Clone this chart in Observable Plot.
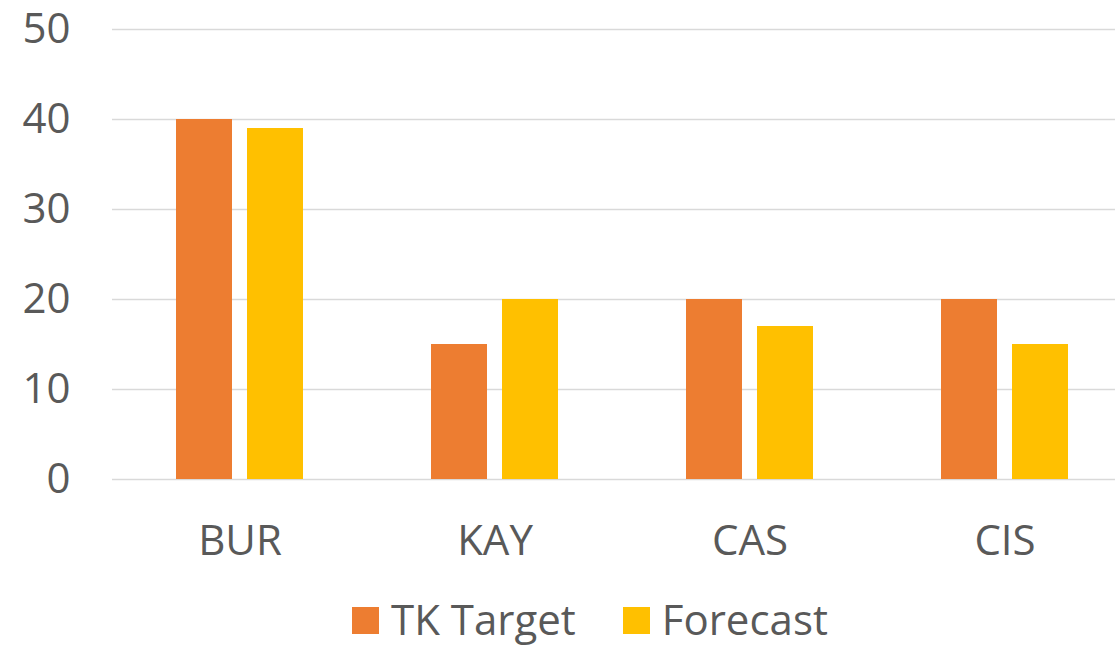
<!DOCTYPE html>
<html>
<head>
<meta charset="utf-8">
<script src="https://cdn.jsdelivr.net/npm/d3@7"></script>
<script src="https://cdn.jsdelivr.net/npm/@observablehq/plot@0.6"></script>
<style>
  html, body { margin: 0; padding: 0; background: #fff; overflow: hidden; width: 1115px; height: 645px; }
  #wrap { position: relative; width: 1115px; height: 645px; overflow: hidden; font-family: "Open Sans", sans-serif; }
  #legend { position: absolute; top: 595px; left: 352px; display: flex; align-items: center; color: #595959; font-size: 42px; line-height: 48px; }
  .item { display: flex; align-items: center; margin-right: 47px; }
  .sw { width: 27px; height: 27px; margin-right: 12px; margin-top: 3px; }
</style>
</head>
<body>
<div id="wrap"><div id="chart"></div><div id="legend"></div></div>
<script>
const categories = ["BUR", "KAY", "CAS", "CIS"];
const series = ["TK Target", "Forecast"];
const targetValues = [40, 15, 20, 20];
const forecastValues = [39, 20, 17, 15];
const colors = ["#ED7D31", "#FFC000"];
const yTicks = [0, 10, 20, 30, 40, 50];

const data = [];
categories.forEach((c, i) => {
  data.push({category: c, series: series[0], value: targetValues[i]});
  data.push({category: c, series: series[1], value: forecastValues[i]});
});

const chart = Plot.plot({
  width: 1132,
  height: 590,
  marginLeft: 112,
  marginRight: 0,
  marginTop: 29,
  marginBottom: 111,
  style: {fontFamily: "'Open Sans', sans-serif", fontSize: "42px", color: "#595959", background: "transparent", overflow: "visible", maxWidth: "none"},
  fx: {domain: categories, padding: 0, axis: "bottom", label: null, tickSize: 0, tickPadding: 46},
  x: {domain: series, axis: null, paddingInner: 0.208, paddingOuter: 0.875},
  y: {domain: [0, 50], ticks: yTicks, label: null, tickSize: 0, tickPadding: 42},
  color: {domain: series, range: colors},
  marks: [
    Plot.gridY(yTicks, {stroke: "#d9d9d9", strokeOpacity: 1, strokeWidth: 1.6}),
    Plot.barY(data, {fx: "category", x: "series", y: "value", fill: "series"})
  ]
});
chart.style.display = "block";
chart.style.maxWidth = "none";
document.getElementById("chart").appendChild(chart);

const legend = document.getElementById("legend");
series.forEach((s, i) => {
  const item = document.createElement("div");
  item.className = "item";
  const sw = document.createElement("div");
  sw.className = "sw";
  sw.style.background = colors[i];
  const t = document.createElement("span");
  t.textContent = s;
  item.appendChild(sw);
  item.appendChild(t);
  legend.appendChild(item);
});
</script>
</body>
</html>
